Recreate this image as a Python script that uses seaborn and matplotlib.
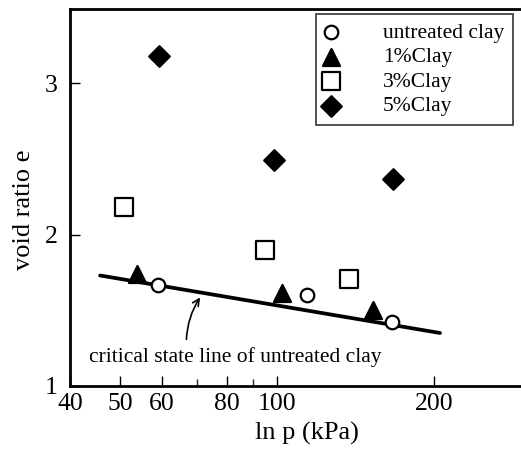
import matplotlib
matplotlib.use("Agg")
import matplotlib.pyplot as plt
import seaborn as sns
import pandas as pd
from matplotlib.ticker import FixedLocator, NullFormatter, FixedFormatter

# ---- data ----
untreated_p = [59.1, 114.3, 166.0]
untreated_e = [1.665, 1.60, 1.42]
clay1_p = [53.9, 102.0, 153.0]
clay1_e = [1.74, 1.615, 1.50]
clay3_p = [50.7, 94.6, 137.5]
clay3_e = [2.18, 1.90, 1.71]
clay5_p = [59.2, 98.5, 166.7]
clay5_e = [3.18, 2.49, 2.37]
csl_p = [45.7, 205.5]
csl_e = [1.73, 1.35]

x_major = [40, 50, 60, 80, 100, 200]
x_major_labels = ["40", "50", "60", "80", "100", "200"]
x_minor = [70, 90]
y_ticks = [1, 2, 3]
y_labels = ["1", "2", "3"]

sns.set_theme(style="white")
plt.rcParams["font.family"] = ["Liberation Serif", "DejaVu Serif"]

fig = plt.figure(figsize=(5.21, 4.57), dpi=100)
ax = fig.add_axes([70 / 521, 1 - 386 / 457, 1 - 70 / 521, (386 - 9) / 457])

series = [
    ("untreated clay", untreated_p, untreated_e, "o", "white", 95),
    ("1%Clay", clay1_p, clay1_e, "^", "black", 150),
    ("3%Clay", clay3_p, clay3_e, "s", "white", 150),
    ("5%Clay", clay5_p, clay5_e, "D", "black", 110),
]

sns.lineplot(x=csl_p, y=csl_e, ax=ax, color="black", linewidth=2.7, legend=False)

for name, px, ey, mk, fc, s in series:
    df = pd.DataFrame({"p": px, "e": ey})
    sns.scatterplot(data=df, x="p", y="e", ax=ax, marker=mk, s=s,
                    color=fc, edgecolor="black", linewidth=1.6,
                    label=name, zorder=3)

ax.set_xscale("log")
ax.set_xlim(40, 294)
ax.set_ylim(1, 3.49)

ax.xaxis.set_major_locator(FixedLocator(x_major))
ax.xaxis.set_major_formatter(FixedFormatter(x_major_labels))
ax.xaxis.set_minor_locator(FixedLocator(x_minor))
ax.xaxis.set_minor_formatter(NullFormatter())
ax.yaxis.set_major_locator(FixedLocator(y_ticks))
ax.yaxis.set_major_formatter(FixedFormatter(y_labels))

ax.tick_params(axis="both", which="major", direction="in", length=7,
               width=1, labelsize=18.5, colors="black")
ax.tick_params(axis="x", which="major", pad=5)
ax.tick_params(axis="y", which="major", pad=9)
ax.tick_params(axis="x", which="minor", direction="in", length=5, width=1)
ax.tick_params(axis="x", which="both", bottom=True, top=False)
ax.tick_params(axis="y", which="both", left=True, right=False)

for side in ["left", "bottom", "top"]:
    ax.spines[side].set_visible(True)
    ax.spines[side].set_color("black")
    ax.spines[side].set_linewidth(2)
ax.spines["right"].set_visible(False)

ax.set_xlabel("ln p (kPa)", fontsize=19, color="black")
ax.set_ylabel("void ratio e", fontsize=19, color="black")
ax.xaxis.set_label_coords(237 / 451, -0.095)
ax.yaxis.set_label_coords(-0.078, 0.467)

ax.annotate("", xy=(71.6, 1.60), xytext=(66.9, 1.29),
            arrowprops=dict(arrowstyle="->", color="black", lw=1.2,
                            connectionstyle="arc3,rad=-0.15"))
ax.text(83.2, 1.19, "critical state line of untreated clay",
        fontsize=15.5, ha="center", va="center", color="black")

leg = ax.legend(loc="upper right", bbox_to_anchor=(513 / 521, 1 - 14 / 457),
                bbox_transform=fig.transFigure, frameon=True, fancybox=False,
                fontsize=15.5, handletextpad=2.1, borderpad=0.42,
                labelspacing=0.2, handlelength=0.6, borderaxespad=0)
leg.get_frame().set_edgecolor("black")
leg.get_frame().set_linewidth(1.2)
for t in leg.get_texts():
    t.set_color("black")

fig.savefig("out.png", dpi=100)
